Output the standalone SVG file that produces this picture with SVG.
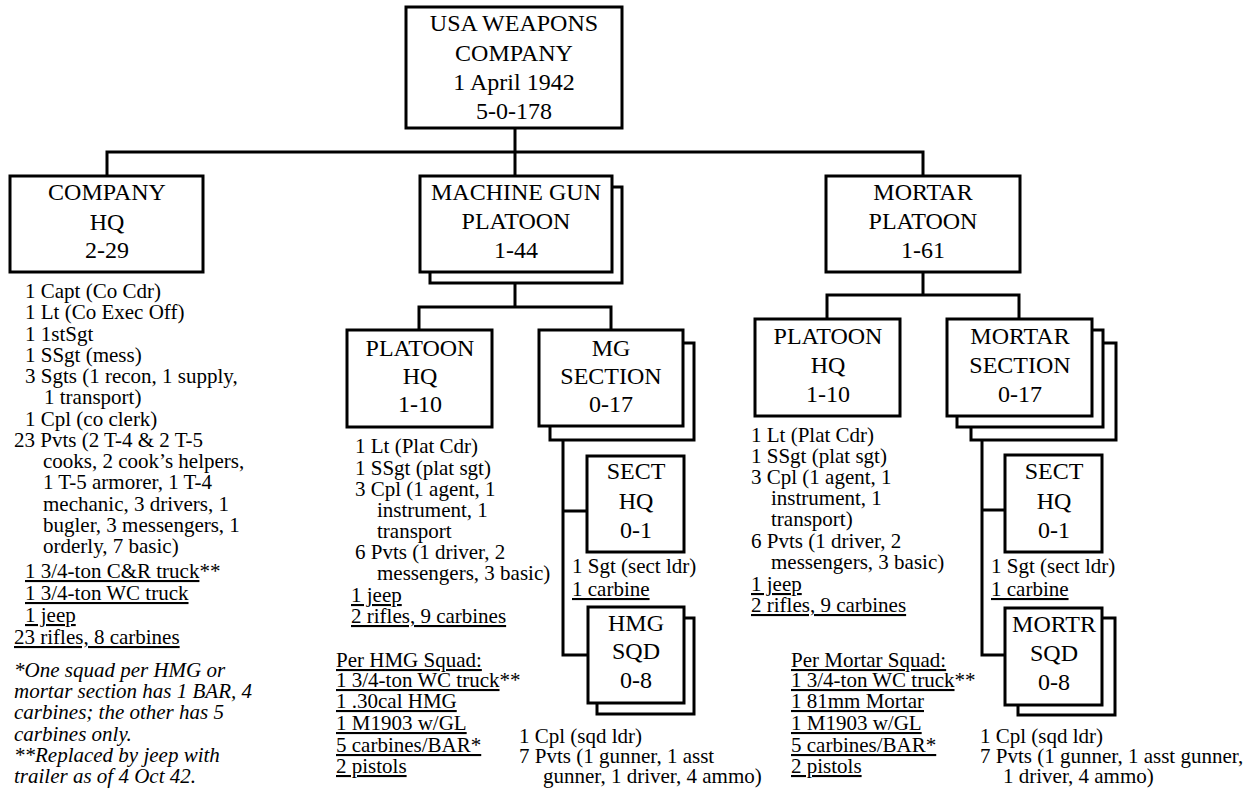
<svg xmlns="http://www.w3.org/2000/svg" width="1255" height="795" viewBox="0 0 1255 795">
<rect width="1255" height="795" fill="#fff"/>
<g id="connectors" fill="none" stroke="#000" stroke-width="3">
<path d="M515 128V176M107 176V152H923V176"/>
<path d="M515 283V307M419 330V307H611V330"/>
<path d="M563 440V655H588M563 511H587"/>
<path d="M923 272V295M827 319V295H1019V319"/>
<path d="M982 440V655H1005M982 510H1005"/>
</g>
<g fill="#fff" stroke="#000" stroke-width="3">
<rect id="top-box" x="406" y="7" width="216" height="121"/>
<rect id="company-hq-box" x="10" y="176" width="193" height="96"/>
<rect x="430" y="187" width="192" height="96"/>
<rect id="mg-platoon-box" x="420" y="176" width="192" height="96"/>
<rect id="mg-platoon-hq-box" x="347" y="330" width="145" height="97"/>
<rect x="550" y="343" width="144" height="97"/>
<rect id="mg-section-box" x="539" y="330" width="144" height="96"/>
<rect id="mg-sect-hq-box" x="587" y="456" width="97" height="96"/>
<rect x="597" y="618" width="97" height="96"/>
<rect id="hmg-sqd-box" x="588" y="607" width="96" height="96"/>
<rect id="mortar-platoon-box" x="826" y="176" width="194" height="96"/>
<rect id="mortar-platoon-hq-box" x="755" y="319" width="145" height="97"/>
<rect x="971" y="343" width="145" height="97"/>
<rect x="957" y="330" width="146" height="97"/>
<rect id="mortar-section-box" x="947" y="319" width="145" height="97"/>
<rect id="mortar-sect-hq-box" x="1005" y="455" width="97" height="97"/>
<rect x="1018" y="618" width="97" height="97"/>
<rect id="mortr-sqd-box" x="1005" y="608" width="97" height="97"/>
</g>
<g id="box-labels" font-family="Liberation Serif" font-size="24" text-anchor="middle" fill="#000">
<text id="top"><tspan x="514" y="31">USA WEAPONS</tspan><tspan x="514" y="61">COMPANY</tspan><tspan x="514" y="90">1 April 1942</tspan><tspan x="514" y="119">5-0-178</tspan></text>
<text id="company-hq"><tspan x="107" y="200">COMPANY</tspan><tspan x="107" y="230">HQ</tspan><tspan x="107" y="258">2-29</tspan></text>
<text id="mg-platoon"><tspan x="516" y="200">MACHINE GUN</tspan><tspan x="516" y="229">PLATOON</tspan><tspan x="516" y="258">1-44</tspan></text>
<text id="mg-platoon-hq"><tspan x="420" y="356">PLATOON</tspan><tspan x="420" y="384">HQ</tspan><tspan x="420" y="412">1-10</tspan></text>
<text id="mg-section"><tspan x="611" y="356">MG</tspan><tspan x="611" y="384">SECTION</tspan><tspan x="611" y="412">0-17</tspan></text>
<text id="mg-sect-hq"><tspan x="636" y="479">SECT</tspan><tspan x="636" y="509">HQ</tspan><tspan x="636" y="538">0-1</tspan></text>
<text id="hmg-sqd"><tspan x="636" y="631">HMG</tspan><tspan x="636" y="659">SQD</tspan><tspan x="636" y="688">0-8</tspan></text>
<text id="mortar-platoon"><tspan x="923" y="200">MORTAR</tspan><tspan x="923" y="229">PLATOON</tspan><tspan x="923" y="258">1-61</tspan></text>
<text id="mortar-platoon-hq"><tspan x="828" y="344">PLATOON</tspan><tspan x="828" y="373">HQ</tspan><tspan x="828" y="402">1-10</tspan></text>
<text id="mortar-section"><tspan x="1020" y="344">MORTAR</tspan><tspan x="1020" y="373">SECTION</tspan><tspan x="1020" y="402">0-17</tspan></text>
<text id="mortar-sect-hq"><tspan x="1054" y="479">SECT</tspan><tspan x="1054" y="509">HQ</tspan><tspan x="1054" y="538">0-1</tspan></text>
<text id="mortr-sqd"><tspan x="1054" y="632">MORTR</tspan><tspan x="1054" y="661">SQD</tspan><tspan x="1054" y="690">0-8</tspan></text>
</g>
<g id="notes" font-family="Liberation Serif" font-size="21" fill="#000">
<text><tspan x="25" y="298">1 Capt (Co Cdr)</tspan><tspan x="25" y="319">1 Lt (Co Exec Off)</tspan><tspan x="25" y="341">1 1stSgt</tspan><tspan x="25" y="362">1 SSgt (mess)</tspan><tspan x="25" y="383">3 Sgts (1 recon, 1 supply,</tspan><tspan x="44" y="404">1 transport)</tspan><tspan x="25" y="426">1 Cpl (co clerk)</tspan><tspan x="14" y="447">23 Pvts (2 T-4 &amp; 2 T-5</tspan><tspan x="43" y="468">cooks, 2 cook&#8217;s helpers,</tspan><tspan x="43" y="489">1 T-5 armorer, 1 T-4</tspan><tspan x="43" y="511">mechanic, 3 drivers, 1</tspan><tspan x="43" y="532">bugler, 3 messengers, 1</tspan><tspan x="43" y="553">orderly, 7 basic)</tspan></text>
<text x="25" y="578"><tspan text-decoration="underline">1 3/4-ton C&amp;R truck</tspan>**</text>
<g text-decoration="underline">
<text x="25" y="600">1 3/4-ton WC truck</text>
<text x="25" y="622">1 jeep</text>
<text x="14" y="644">23 rifles, 8 carbines</text>
</g>
<text font-style="italic"><tspan x="14" y="677">*One squad per HMG or</tspan><tspan x="14" y="698">mortar section has 1 BAR, 4</tspan><tspan x="14" y="719">carbines; the other has 5</tspan><tspan x="14" y="741">carbines only.</tspan><tspan x="14" y="762">**Replaced by jeep with</tspan><tspan x="14" y="783">trailer as of 4 Oct 42.</tspan></text>
<text><tspan x="355" y="453">1 Lt (Plat Cdr)</tspan><tspan x="355" y="475">1 SSgt (plat sgt)</tspan><tspan x="355" y="496">3 Cpl (1 agent, 1</tspan><tspan x="377" y="517">instrument, 1</tspan><tspan x="377" y="538">transport</tspan><tspan x="355" y="559">6 Pvts (1 driver, 2</tspan><tspan x="377" y="580">messengers, 3 basic)</tspan></text>
<g text-decoration="underline">
<text x="351" y="602">1 jeep</text>
<text x="351" y="623">2 rifles, 9 carbines</text>
<text x="336" y="667">Per HMG Squad:</text>
</g>
<text x="336" y="687"><tspan text-decoration="underline">1 3/4-ton WC truck</tspan>**</text>
<g text-decoration="underline">
<text x="336" y="708">1 .30cal HMG</text>
<text x="336" y="730">1 M1903 w/GL</text>
<text x="336" y="752">5 carbines/BAR*</text>
<text x="336" y="773">2 pistols</text>
</g>
<text x="572" y="573">1 Sgt (sect ldr)</text>
<text x="572" y="596" text-decoration="underline">1 carbine</text>
<text><tspan x="519" y="743">1 Cpl (sqd ldr)</tspan><tspan x="519" y="763">7 Pvts (1 gunner, 1 asst</tspan><tspan x="543" y="783">gunner, 1 driver, 4 ammo)</tspan></text>
<text><tspan x="751" y="442">1 Lt (Plat Cdr)</tspan><tspan x="751" y="463">1 SSgt (plat sgt)</tspan><tspan x="751" y="484">3 Cpl (1 agent, 1</tspan><tspan x="771" y="505">instrument, 1</tspan><tspan x="771" y="526">transport)</tspan><tspan x="751" y="548">6 Pvts (1 driver, 2</tspan><tspan x="771" y="569">messengers, 3 basic)</tspan></text>
<g text-decoration="underline">
<text x="751" y="591">1 jeep</text>
<text x="751" y="612">2 rifles, 9 carbines</text>
<text x="791" y="667">Per Mortar Squad:</text>
</g>
<text x="791" y="687"><tspan text-decoration="underline">1 3/4-ton WC truck</tspan>**</text>
<g text-decoration="underline">
<text x="791" y="708">1 81mm Mortar</text>
<text x="791" y="730">1 M1903 w/GL</text>
<text x="791" y="752">5 carbines/BAR*</text>
<text x="791" y="773">2 pistols</text>
</g>
<text x="991" y="573">1 Sgt (sect ldr)</text>
<text x="991" y="596" text-decoration="underline">1 carbine</text>
<text><tspan x="980" y="743">1 Cpl (sqd ldr)</tspan><tspan x="980" y="763">7 Pvts (1 gunner, 1 asst gunner,</tspan><tspan x="1003" y="783">1 driver, 4 ammo)</tspan></text>
</g>
</svg>
